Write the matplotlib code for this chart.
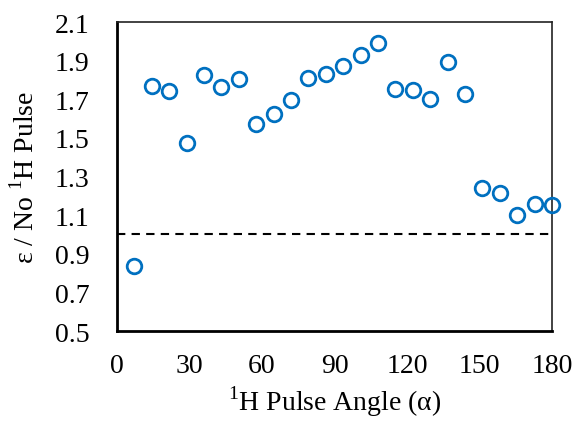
import numpy as np
import matplotlib.pyplot as plt

plt.rcParams.update({'font.family': ['Liberation Serif', 'DejaVu Serif'], 'font.size': 20,
                     'mathtext.fontset': 'custom', 'mathtext.rm': 'Liberation Serif'})

# Pulse angles (degrees) and ratio to no-1H-pulse signal
angle = [7.2, 14.4, 21.6, 28.8, 36.0, 43.2, 50.4, 57.6, 64.8, 72.0, 79.2, 86.4, 93.6,
         100.8, 108.0, 115.2, 122.4, 129.6, 136.8, 144.0, 151.2, 158.4, 165.6, 172.8, 180.0]
ratio = [0.837, 1.767, 1.743, 1.471, 1.824, 1.762, 1.805, 1.570, 1.623, 1.694, 1.808, 1.832, 1.874,
         1.929, 1.990, 1.753, 1.748, 1.703, 1.891, 1.725, 1.242, 1.214, 1.100, 1.159, 1.153]
reference = 1.0

fig = plt.figure(figsize=(5.77, 4.31), dpi=100)
ax = fig.add_axes([117 / 577, 1 - 332 / 431, 435 / 577, 309 / 431])

ax.axhline(reference, color='black', linestyle=(0, (4, 3)), linewidth=1.5, zorder=1)
ax.plot(angle, ratio, linestyle='none', marker='o', markersize=10.5,
        markerfacecolor='none', markeredgecolor='#0070C0', markeredgewidth=2, zorder=3,
        clip_on=False)

ax.set_xlim(0, 180)
ax.set_ylim(0.5, 2.1)
ax.set_xticks(np.arange(0, 181, 30))
ax.set_yticks(np.arange(0.5, 2.11, 0.2))
ax.set_yticklabels([f'{v:.1f}' for v in np.arange(0.5, 2.11, 0.2)])
ax.tick_params(axis='x', length=0, pad=16, labelsize=20)
ax.tick_params(axis='y', length=0, pad=20, labelsize=20)

for side in ['top', 'right']:
    ax.spines[side].set_linewidth(1.2)
    ax.spines[side].set_color('#222222')
for side in ['left', 'bottom']:
    ax.spines[side].set_linewidth(2)

ax.set_xlabel(r'$^{\mathrm{1}}$H Pulse Angle (α)', fontsize=20, labelpad=4)
ax.set_ylabel(r'ε / No $^{\mathrm{1}}$H Pulse', fontsize=20, labelpad=11)

plt.savefig('out.png', dpi=100)
